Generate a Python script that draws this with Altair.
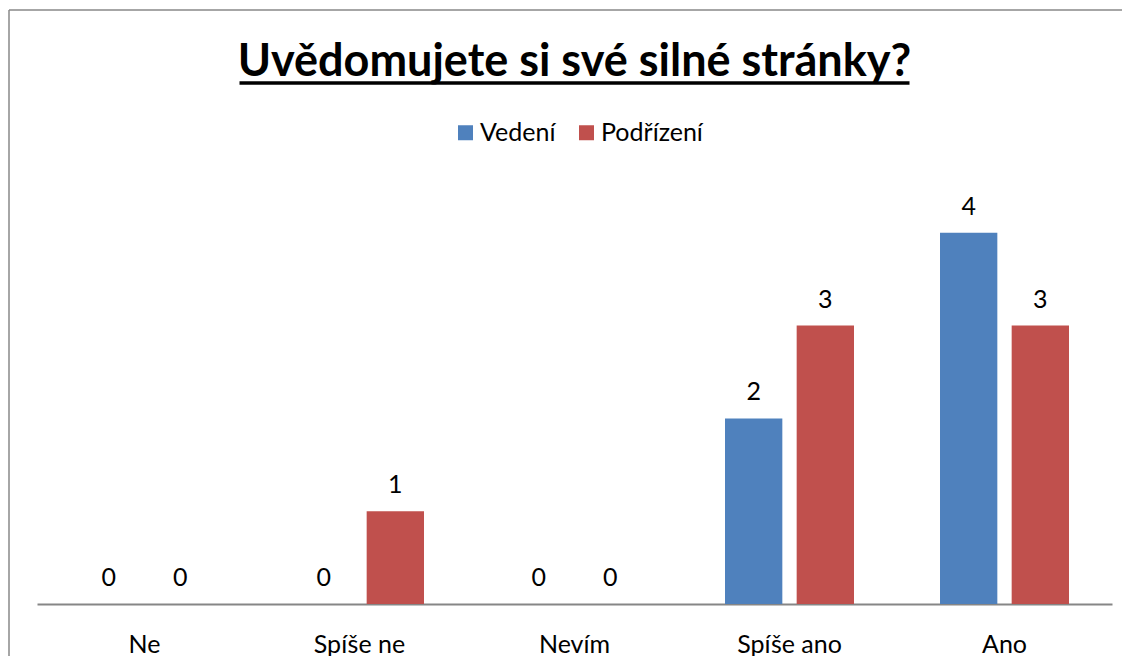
import altair as alt
import pandas as pd

categories = ["Ne", "Spíše ne", "Nevím", "Spíše ano", "Ano"]
series = ["Vedení", "Podřízení"]
vedeni = [0, 0, 0, 2, 4]
podrizeni = [0, 1, 0, 3, 3]
colors = ["#4F81BD", "#C0504D"]
title_text = "Uvědomujete si své silné stránky?"

rows = []
for i, c in enumerate(categories):
    rows.append({"cat": c, "series": series[0], "value": vedeni[i]})
    rows.append({"cat": c, "series": series[1], "value": podrizeni[i]})
df = pd.DataFrame(rows)
one = pd.DataFrame({"k": [0]})

W, H = 1075, 464
FONT = "Lato"
FS = 25

x = alt.X(
    "cat:N", sort=categories,
    scale=alt.Scale(paddingInner=0.4, paddingOuter=0.2),
    axis=alt.Axis(title=None, labelAngle=0, labelFont=FONT, labelFontSize=FS,
                  labelColor="black", labelPadding=28, ticks=False,
                  domainColor="#868686", domainWidth=2),
)
xo = alt.XOffset("series:N", sort=series, scale=alt.Scale(paddingInner=0.2, paddingOuter=0))
y = alt.Y("value:Q", scale=alt.Scale(domain=[0, 5]), axis=None)
color = alt.Color(
    "series:N", sort=series,
    scale=alt.Scale(domain=series, range=colors),
    legend=alt.Legend(orient="none", legendX=416, legendY=-20, direction="horizontal",
                      title=None, symbolType="square", symbolSize=225, symbolStrokeWidth=0,
                      labelFont=FONT, labelFontSize=FS, labelColor="black", labelOffset=2,
                      columnPadding=18, padding=0),
)

bars = alt.Chart(df).mark_bar().encode(x=x, xOffset=xo, y=y, color=color)
labels = alt.Chart(df).mark_text(dy=-18, baseline="alphabetic", font=FONT, fontSize=FS,
                                 color="black").encode(x=x, xOffset=xo, y=y, text="value:Q")

frame_top = alt.Chart(one).mark_rule(stroke="#888888", strokeWidth=1.5).encode(
    x=alt.value(-28), x2=alt.value(1100), y=alt.value(-130))
frame_left = alt.Chart(one).mark_rule(stroke="#888888", strokeWidth=1.5).encode(
    x=alt.value(-28), y=alt.value(-130), y2=alt.value(523))
title = alt.Chart(one).mark_text(font=FONT, fontSize=45, fontWeight="bold", baseline="alphabetic",
                                 align="center", color="black").encode(
    x=alt.value(W / 2), y=alt.value(-64), text=alt.value(title_text))
underline = alt.Chart(one).mark_rule(strokeWidth=3.5, color="black").encode(
    x=alt.value(W / 2 - 335), x2=alt.value(W / 2 + 335), y=alt.value(-57))

chart = alt.layer(frame_top, frame_left, bars, labels, title, underline).properties(
    width=W, height=H,
    autosize=alt.AutoSizeParams(type="none"),
    padding={"left": 29, "top": 132, "right": 10, "bottom": 52},
).configure_view(stroke=None)

chart.save("out.html", embed_options={"renderer": "svg", "actions": False})
